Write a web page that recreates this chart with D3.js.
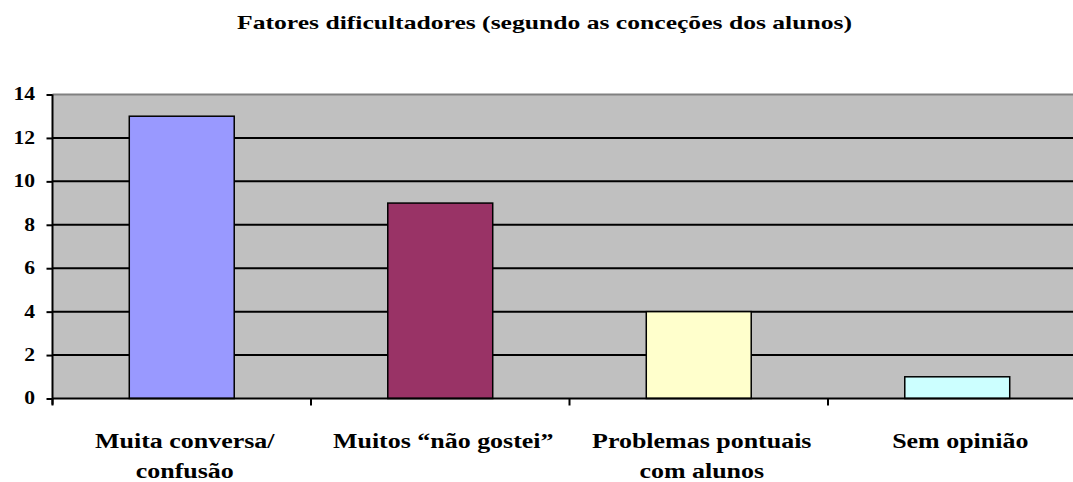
<!DOCTYPE html>
<html>
<head>
<meta charset="utf-8">
<script src="https://cdn.jsdelivr.net/npm/d3@7"></script>
<style>
  body { margin: 0; background: #fff; }
  svg text { font-family: "Liberation Serif", "DejaVu Serif", serif; font-weight: bold; fill: #000; }
</style>
</head>
<body>
<div id="chart"></div>
<script>
// --- Data ---
const categories = [
    ["Muita conversa/", "confusão"],
    ["Muitos “não gostei”"],
    ["Problemas pontuais", "com alunos"],
    ["Sem opinião"]
];
const values = [13, 9, 4, 1];
const barColors = ["#9999FF", "#993366", "#FFFFCC", "#CCFFFF"];
const yTicks = [0, 2, 4, 6, 8, 10, 12, 14];
const title = "Fatores dificultadores (segundo as conceções dos alunos)";

// --- Layout ---
const WIDTH = 1073, HEIGHT = 482;
const plot = { left: 52.5, right: 1086.5, top: 94.5, bottom: 398.5 };
const STRETCH = 1.2; // the reference text is drawn horizontally widened

const svg = d3.select('#chart')
    .append('svg')
    .attr('width', WIDTH)
    .attr('height', HEIGHT);

const keys = categories.map((c, i) => i);

const x = d3.scaleBand()
    .domain(keys)
    .range([plot.left, plot.right])
    .paddingInner(0.594)
    .paddingOuter(0.297);

const y = d3.scaleLinear()
    .domain([0, 14])
    .range([plot.bottom, plot.top]);

// plot background
svg.append('rect')
    .attr('x', plot.left)
    .attr('y', plot.top)
    .attr('width', plot.right - plot.left)
    .attr('height', plot.bottom - plot.top)
    .attr('fill', '#C0C0C0');

// gridlines
svg.append('g')
    .selectAll('line')
    .data(yTicks.filter(d => d > 0))
    .join('line')
    .attr('x1', plot.left)
    .attr('x2', plot.right)
    .attr('y1', d => y(d))
    .attr('y2', d => y(d))
    .attr('stroke', d => d === 14 ? '#808080' : '#000')
    .attr('stroke-width', 2);

// bars
svg.append('g')
    .selectAll('rect')
    .data(values)
    .join('rect')
    .attr('x', (d, i) => x(i))
    .attr('y', d => y(d))
    .attr('width', x.bandwidth())
    .attr('height', d => y(0) - y(d))
    .attr('fill', (d, i) => barColors[i])
    .attr('stroke', '#000')
    .attr('stroke-width', 1.5);

// y axis (ticks from d3, labels drawn widened)
const yAxis = svg.append('g')
    .attr('transform', `translate(${plot.left},0)`)
    .call(d3.axisLeft(y).tickValues(yTicks).tickSize(6).tickFormat(''));
yAxis.select('.domain').attr('stroke-width', 2).attr('d', `M0,${plot.top}V${plot.bottom + 6}`);
yAxis.selectAll('.tick line').attr('stroke-width', 2);

svg.append('g')
    .selectAll('g')
    .data(yTicks)
    .join('g')
    .attr('transform', d => `translate(35,${y(d)}) scale(${STRETCH},1)`)
    .append('text')
    .attr('text-anchor', 'end')
    .attr('dy', '0.33em')
    .attr('font-size', 18)
    .text(d => d);

// x axis line + boundary ticks
const step = x.step();
const boundaries = keys.map(i => plot.left + i * step).concat([plot.left + keys.length * step]);
svg.append('line')
    .attr('x1', plot.left).attr('x2', plot.right)
    .attr('y1', plot.bottom).attr('y2', plot.bottom)
    .attr('stroke', '#000').attr('stroke-width', 2);
svg.append('g')
    .selectAll('line')
    .data(boundaries)
    .join('line')
    .attr('x1', d => d).attr('x2', d => d)
    .attr('y1', plot.bottom).attr('y2', plot.bottom + 7)
    .attr('stroke', '#000').attr('stroke-width', 2);

// category labels
const labels = svg.append('g')
    .selectAll('g')
    .data(categories)
    .join('g')
    .attr('transform', (d, i) => `translate(${x(i) + x.bandwidth() / 2 + 3},448) scale(1.18,1)`)
    .append('text')
    .attr('text-anchor', 'middle')
    .attr('font-size', 22);
labels.selectAll('tspan')
    .data(d => d)
    .join('tspan')
    .attr('x', 0)
    .attr('dy', (d, i) => i === 0 ? 0 : 30)
    .text(d => d);

// title
svg.append('text')
    .attr('x', 237)
    .attr('y', 29)
    .attr('font-size', 19)
    .attr('textLength', 615)
    .attr('lengthAdjust', 'spacingAndGlyphs')
    .text(title);
</script>
</body>
</html>
